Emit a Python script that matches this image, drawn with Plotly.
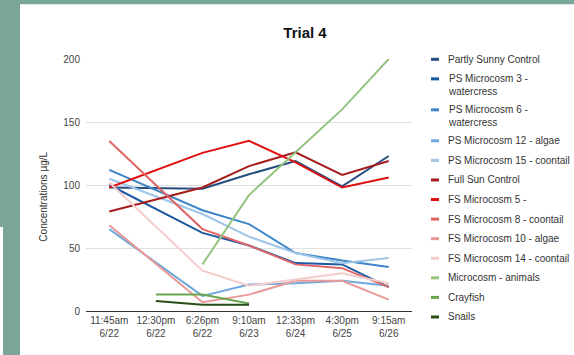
import plotly.graph_objects as go

# Sampling times (x categories)
times = ["11:45am<br>6/22", "12:30pm<br>6/22", "6:26pm<br>6/22", "9:10am<br>6/23",
         "12:33pm<br>6/24", "4:30pm<br>6/25", "9:15am<br>6/26"]

# Concentrations (µg/L); None = not sampled at that time
partly_sunny_control = [98, None, 97, 108.5, 119, 99, 123]
ps_microcosm_3 = [100, None, 62, 52, 38, 37, 19]
ps_microcosm_6 = [112, None, 80, 69, 46, 40, 35]
ps_microcosm_12 = [65, None, 12, 21, 22, 24, 20]
ps_microcosm_15 = [105, None, 77, 59, 46, 38, 42]
full_sun_control = [79, None, 98, 115, 126, 108, 119]
fs_microcosm_5 = [98, None, 125.5, 135, 118, 98, 106]
fs_microcosm_8 = [135, None, 65, 52, 37, 34, 19]
fs_microcosm_10 = [68, None, 7, 13, 24, 24, 9]
fs_microcosm_14 = [102, None, 32, 20, 25, 30, 22]
microcosm_animals = [None, None, 37, 92, 126, 160, 200]
crayfish = [None, 13, 13, 6, None, None, None]
snails = [None, 8, 5, 5, None, None, None]

series_names = [
    "Partly Sunny Control", "PS Microcosm 3 -<br>watercress", "PS Microcosm 6 -<br>watercress",
    "PS Microcosm 12 - algae", "PS Microcosm 15 - coontail", "Full Sun Control",
    "FS Microcosm 5 -", "FS Microcosm 8 - coontail", "FS Microcosm 10 - algae",
    "FS Microcosm 14 - coontail", "Microcosm - animals", "Crayfish", "Snails",
]
series_values = [
    partly_sunny_control, ps_microcosm_3, ps_microcosm_6, ps_microcosm_12, ps_microcosm_15,
    full_sun_control, fs_microcosm_5, fs_microcosm_8, fs_microcosm_10, fs_microcosm_14,
    microcosm_animals, crayfish, snails,
]
series_colors = [
    "#264d7e", "#1b5aa3", "#3d85c6", "#6fa8dc", "#9fc5e8",
    "#a61c1c", "#e01010", "#e06666", "#ea9999", "#f4cccc",
    "#93c47d", "#6aa84f", "#274e13",
]

FONT = "Liberation Sans, Arial, sans-serif"
W, H = 574, 355
L, R, T, B = 86, 162, 58.7, 44
PW, PH = W - L - R, H - T - B


def px_x(px):
    return (px - L) / PW


def px_y(py):
    return (H - B - py) / PH


fig = go.Figure()
for name, vals, col in zip(series_names, series_values, series_colors):
    fig.add_trace(go.Scatter(
        x=times, y=vals, mode="lines", name=name.replace("<br>", " "),
        line=dict(color=col, width=2), connectgaps=True, showlegend=False,
    ))

shapes = [
    # white card on the teal page
    dict(type="rect", xref="paper", yref="paper", layer="below",
         x0=px_x(20), x1=px_x(W + 2), y0=px_y(H + 2), y1=px_y(4),
         fillcolor="white", line=dict(width=0)),
    dict(type="rect", xref="paper", yref="paper", layer="below",
         x0=px_x(-2), x1=px_x(3), y0=px_y(H + 2), y1=px_y(227),
         fillcolor="white", line=dict(width=0)),
]
annotations = [
    dict(text="Concentrations µg/L", textangle=-90, xref="paper", yref="paper",
         x=px_x(44), y=px_y(196.5), showarrow=False, xanchor="center", yanchor="middle",
         font=dict(family=FONT, size=10, color="#333333")),
]

# Legend column at the right
ly = 59.0
for name, col in zip(series_names, series_colors):
    n_lines = name.count("<br>") + 1
    shapes.append(dict(type="line", xref="paper", yref="paper",
                       x0=px_x(431), x1=px_x(439), y0=px_y(ly), y1=px_y(ly),
                       line=dict(color=col, width=3)))
    annotations.append(dict(text=name, xref="paper", yref="paper",
                            x=px_x(446), y=px_y(ly + (n_lines - 1) * 6),
                            xanchor="left", yanchor="middle", align="left",
                            showarrow=False,
                            font=dict(family=FONT, size=10, color="#333333")))
    ly += 19.6 + 11.4 * (n_lines - 1)

fig.update_layout(
    width=W, height=H,
    margin=dict(l=L, r=R, t=T, b=B, pad=0),
    paper_bgcolor="#7aa69a", plot_bgcolor="white",
    font=dict(family=FONT, size=10, color="#444444"),
    title=dict(text="<b>Trial 4</b>", x=305 / W, y=1 - 33 / H, xanchor="center",
               yanchor="middle", font=dict(family=FONT, size=15, color="#111111")),
    shapes=shapes, annotations=annotations, showlegend=False,
    xaxis=dict(type="category", range=[-0.5, 6.5], showgrid=False, showline=True,
               linecolor="#333333", linewidth=1, ticks="", zeroline=False,
               tickfont=dict(family=FONT, size=10, color="#444444"), fixedrange=True),
    yaxis=dict(range=[0, 200], tickvals=[0, 50, 100, 150, 200], showgrid=True,
               gridcolor="#e0e0e0", gridwidth=1, zeroline=False, showline=False,
               ticks="", ticklabelstandoff=5,
               tickfont=dict(family=FONT, size=10, color="#444444"), fixedrange=True),
)

fig.write_html("out.html")
